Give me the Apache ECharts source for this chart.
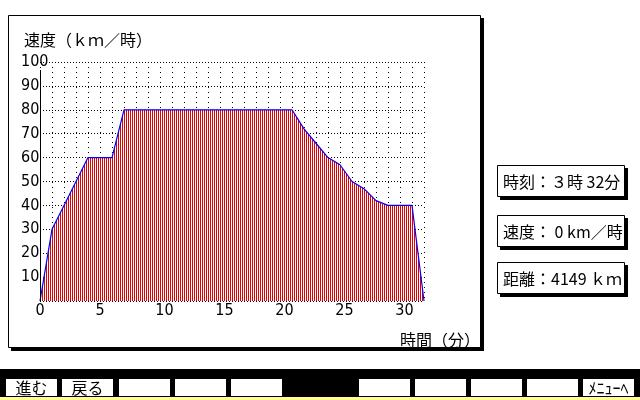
<!DOCTYPE html>
<html><head><meta charset="utf-8">
<script src="https://cdn.jsdelivr.net/npm/echarts@6/dist/echarts.min.js"></script>
<style>html,body{margin:0;padding:0;background:#fff}#c{width:640px;height:400px}</style>
</head><body><div id="c"></div>
<script>
const minutes = [0,1,2,3,4,5,6,7,8,9,10,11,12,13,14,15,16,17,18,19,20,21,22,23,24,25,26,27,28,29,30,31,32];
const speeds  = [0,30,40,50,60,60,60,80,80,80,80,80,80,80,80,80,80,80,80,80,80,80,72,66,60,57,50,47,42,40,40,40,0];
const xTicks = [0,5,10,15,20,25,30];
const yTicks = [10,20,30,40,50,60,70,80,90,100];
const yTitle = '速度（ｋｍ／時）';
const xTitle = '時間（分）';
const infoLines = ['時刻：３時 32分', '速度： 0 km／時', '距離：4149 ｋｍ'];
const buttons1 = ['進む','戻る','','',''];
const buttons2 = ['','','','','ﾒﾆｭｰﾍ'];

const NUM = '"Liberation Sans Narrow","DejaVu Sans Condensed","Arial Narrow",sans-serif';
const CJK = '"Noto Sans CJK JP","Noto Sans CJK SC",sans-serif';

const pc = document.createElement('canvas');
pc.width = 2; pc.height = 1;
const pctx = pc.getContext('2d');
pctx.fillStyle = '#e00000'; pctx.fillRect(0,0,1,1);
pctx.fillStyle = '#ffffff'; pctx.fillRect(1,0,1,1);

const chart = echarts.init(document.getElementById('c'), null, {renderer:'canvas'});

const graphics = [];
// main frame with shadow
graphics.push({type:'rect', z:-10, shape:{x:11,y:18,width:473,height:333}, style:{fill:'#000'}, silent:true});
graphics.push({type:'rect', z:-9, shape:{x:8.5,y:15.5,width:472,height:332}, style:{fill:'#fff',stroke:'#000',lineWidth:1}, silent:true});
// y axis line
graphics.push({type:'line', z:5, shape:{x1:40.5,y1:70,x2:40.5,y2:301}, style:{stroke:'#000',lineWidth:1}, silent:true});
// titles
graphics.push({type:'text', z:5, style:{x:24,y:40,text:yTitle,font:'16px '+CJK,fill:'#000',verticalAlign:'middle',textAlign:'left'}});
graphics.push({type:'text', z:5, style:{x:400,y:340,text:xTitle,font:'16px '+CJK,fill:'#000',verticalAlign:'middle',textAlign:'left'}});
// info boxes
const boxY = [165,215,262];
infoLines.forEach((t,i)=>{
  graphics.push({type:'rect', z:-8, shape:{x:500,y:boxY[i]+3,width:128,height:32}, style:{fill:'#000'}});
  graphics.push({type:'rect', z:-7, shape:{x:497.5,y:boxY[i]+0.5,width:127,height:31}, style:{fill:'#fff',stroke:'#000',lineWidth:1}});
  graphics.push({type:'text', z:-6, style:{x:503,y:boxY[i]+17,text:t,font:'16px '+CJK,fill:'#000',verticalAlign:'middle',textAlign:'left'}});
});
// bottom bar
graphics.push({type:'rect', z:-8, shape:{x:0,y:369,width:640,height:28}, style:{fill:'#000'}});
graphics.push({type:'rect', z:-8, shape:{x:0,y:397,width:640,height:3}, style:{fill:'#ffff90'}});
const bx1 = [6,62,119,175,231];
const bx2 = [359,415,471,527,583];
function addBtn(x,t){
  graphics.push({type:'rect', z:-7, shape:{x:x,y:379,width:51,height:17}, style:{fill:'#fff'}});
  if(t) graphics.push({type:'text', z:-6, style:{x:x+25.5,y:388,text:t,font:'16px '+CJK,fill:'#000',verticalAlign:'middle',textAlign:'center'}});
}
buttons1.forEach((t,i)=>addBtn(bx1[i],t));
buttons2.forEach((t,i)=>addBtn(bx2[i],t));

chart.setOption({
  animation:false,
  backgroundColor:'#fff',
  grid:{left:40, top:62, right:216, bottom:99, containLabel:false},
  xAxis:{
    type:'value', min:0, max:32, interval:1,
    axisLine:{show:false}, axisTick:{show:false},
    splitLine:{show:true, lineStyle:{color:'#000', width:1, type:[1,4]}},
    axisLabel:{
      margin:2, color:'#000', fontSize:16, fontFamily:NUM,
      formatter:v=> xTicks.indexOf(v)<0 ? '' : (v>=10 ? '{p|'+v+'}' : ''+v),
      rich:{p:{padding:[0,0,0,9], fontSize:16, fontFamily:NUM, color:'#000'}}
    }
  },
  yAxis:{
    type:'value', min:0, max:100, interval:10,
    axisLine:{show:false}, axisTick:{show:false},
    splitLine:{show:true, lineStyle:{color:'#000', width:1, type:[1,2]}},
    axisLabel:{
      margin:19, align:'left', verticalAlign:'middle', color:'#000', fontSize:16, fontFamily:NUM,
      formatter:v=> yTicks.indexOf(v)<0 ? '' : ''+v
    }
  },
  series:[{
    type:'line',
    data: minutes.map((m,i)=>[m,speeds[i]]),
    showSymbol:false, symbol:'none',
    lineStyle:{color:'#0000ff', width:1.2},
    areaStyle:{color:{image:pc, repeat:'repeat'}, opacity:1},
    z:3
  }],
  graphic: graphics
});
</script></body></html>
